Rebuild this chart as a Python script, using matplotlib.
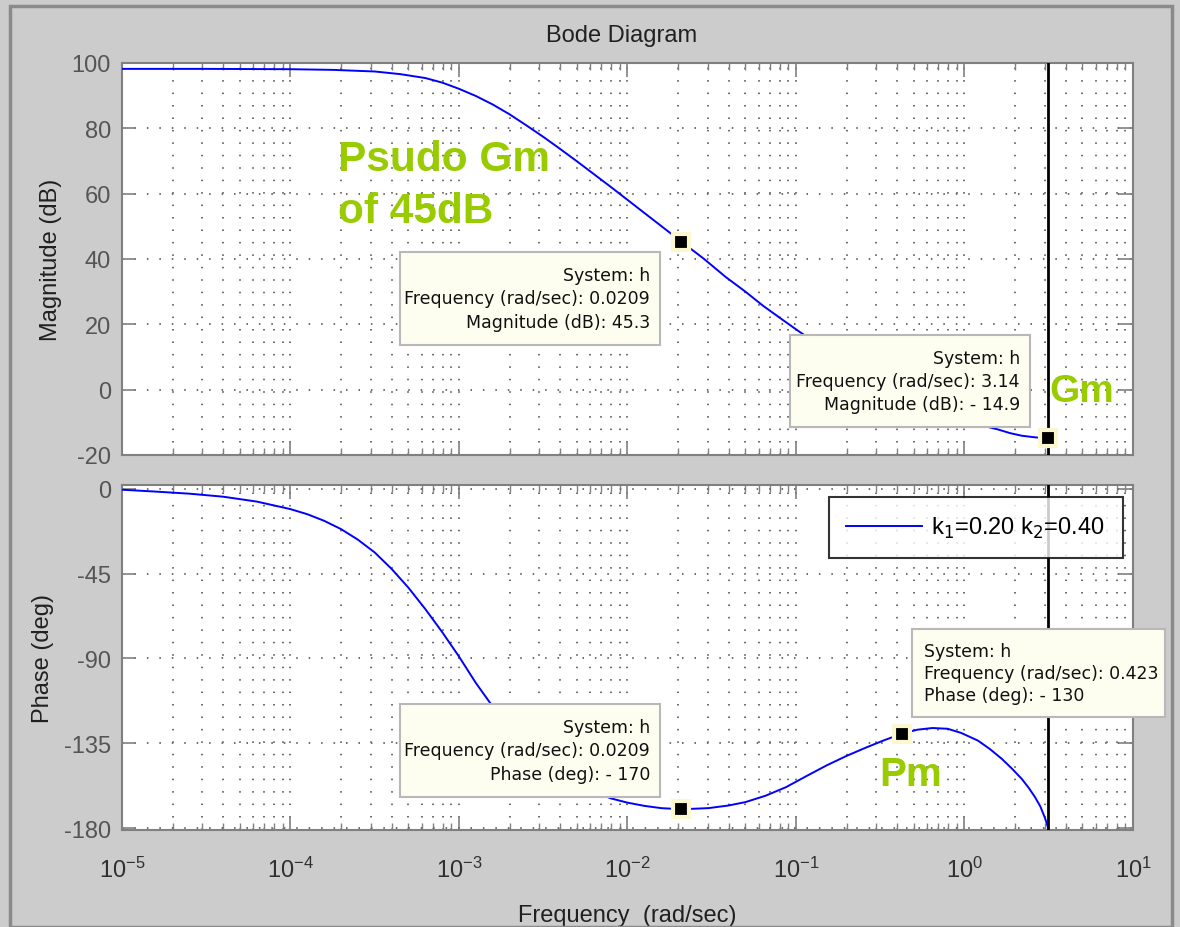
import numpy as np
import matplotlib
matplotlib.use("Agg")
import matplotlib.pyplot as plt
from matplotlib.patches import Rectangle
from matplotlib.ticker import FixedLocator, LogLocator, NullFormatter

# ---------------- data ----------------
mag_logw = [-5.0, -4.5, -4.0, -3.75, -3.5, -3.35, -3.2, -3.1, -3.0, -2.9,
            -2.8, -2.7, -2.6, -2.5, -2.4, -2.3, -2.2, -2.1, -2.0, -1.9,
            -1.8, -1.68, -1.55, -1.415, -1.3, -1.196, -1.08, -0.976, -0.8, -0.6,
            -0.4, -0.2, 0.0, 0.1, 0.2, 0.27, 0.34, 0.42, 0.497]
mag_db = [98.2, 98.2, 98.1, 97.9, 97.4, 96.6, 95.4, 94.0, 92.1, 89.9,
          87.3, 84.3, 80.9, 77.4, 73.7, 69.9, 66.0, 62.1, 58.1, 54.1,
          50.1, 45.3, 40.2, 34.4, 30.0, 25.7, 21.4, 17.6, 11.6, 5.3,
          -0.4, -5.4, -9.3, -10.9, -12.2, -13.3, -14.1, -14.6, -14.9]

ph_logw = [-5.0, -4.8, -4.6, -4.4, -4.2, -4.0, -3.9, -3.8, -3.7, -3.6,
           -3.5, -3.4, -3.3, -3.2, -3.1, -3.0, -2.9, -2.8, -2.7, -2.6,
           -2.5, -2.4, -2.3, -2.2, -2.1, -2.0, -1.9, -1.8, -1.68, -1.52,
           -1.4, -1.3, -1.18, -1.06, -0.94, -0.82, -0.7, -0.58, -0.48, -0.374,
           -0.28, -0.19, -0.1, -0.02, 0.08, 0.15, 0.222, 0.28, 0.34, 0.38,
           0.418, 0.45, 0.477, 0.497]
ph_deg = [-0.5, -1.5, -2.6, -4.2, -6.8, -10.8, -13.5, -17.0, -21.4, -27.0,
          -33.8, -42.5, -52.5, -63.8, -76.0, -89.0, -103.0, -115.5, -126.5, -135.5,
          -143.5, -150.5, -156.0, -160.5, -164.2, -166.5, -168.2, -169.4, -170.0, -169.4,
          -168.0, -166.2, -162.8, -158.3, -152.5, -146.8, -141.7, -137.1, -133.5, -130.0,
          -127.8, -126.9, -127.3, -129.5, -133.6, -138.0, -143.3, -148.3, -153.9, -158.5,
          -163.5, -168.5, -174.5, -180.0]

mag_ticks = [-20, 0, 20, 40, 60, 80, 100]
ph_ticks = [-180, -135, -90, -45, 0]
decades = [-5, -4, -3, -2, -1, 0, 1]

mag_tips = [(0.0209, 45.3), (3.14, -14.9)]
ph_tips = [(0.0209, -170), (0.423, -130)]
crossover_w = 3.14
legend_label = r"k$_{1}$=0.20 k$_{2}$=0.40"

# ---------------- figure ----------------
W, H = 1180, 928
plt.rcParams["axes.unicode_minus"] = False
plt.rcParams["font.family"] = ["Liberation Sans", "DejaVu Sans"]
fig = plt.figure(figsize=(W / 100, H / 100), dpi=100, facecolor="#cccccc")

# window frame
fig.patches.append(Rectangle((10 / W, 0), (1162 / W), 1 - 7 / H, transform=fig.transFigure,
                             fill=False, edgecolor="#8a8a8a", linewidth=2.5, zorder=0))

def px_axes(left, top, right, bottom):
    return [left / W, 1 - bottom / H, (right - left) / W, (bottom - top) / H]

ax1 = fig.add_axes(px_axes(122, 64, 1133, 456))
ax2 = fig.add_axes(px_axes(122, 486, 1133, 831))

mag_w = 10 ** np.array(mag_logw)
ph_w = 10 ** np.array(ph_logw)

ax1.semilogx(mag_w, mag_db, color="#0000ff", lw=1.4, zorder=3)
ax2.semilogx(ph_w, ph_deg, color="#0000ff", lw=1.4, zorder=3, label=legend_label)

grid_kw = dict(color="#6e6e6e", linestyle=(0, (0.8, 5.6)), linewidth=1.4)
for ax in (ax1, ax2):
    ax.set_facecolor("white")
    ax.set_xlim(1e-5, 10)
    ax.set_xscale("log")
    ax.xaxis.set_major_locator(FixedLocator([10.0 ** d for d in decades]))
    ax.xaxis.set_minor_locator(LogLocator(base=10, subs=np.arange(2, 10), numticks=100))
    ax.xaxis.set_minor_formatter(NullFormatter())
    ax.grid(True, which="major", **grid_kw)
    ax.grid(True, which="minor", axis="x", **grid_kw)
    ax.tick_params(which="major", direction="in", length=10, width=1.2, color="#808080",
                   top=True, right=True, labelsize=17, labelcolor="#555555", pad=8)
    ax.tick_params(which="minor", direction="in", length=5, width=1.0, color="#808080",
                   top=True, right=True)
    for s in ax.spines.values():
        s.set_color("#808080")
        s.set_linewidth(1.5)
    ax.axvline(crossover_w, color="black", lw=2.0, zorder=4)
    ax.set_axisbelow(True)

ax1.set_ylim(-20, 100)
ax1.set_yticks(mag_ticks)
ax1.tick_params(axis="x", labelbottom=False)
ax2.set_ylim(-181, 2)
ax2.set_yticks(ph_ticks)
ax2.set_xticklabels([r"$\mathregular{10^{%d}}$" % d for d in decades])
ax2.tick_params(axis="x", labelcolor="#303030", pad=19)

ax1.set_ylabel("Magnitude (dB)", fontsize=17, color="#202020", labelpad=7)
ax2.set_ylabel("Phase (deg)", fontsize=17, color="#202020", labelpad=7)
ax2.set_xlabel("Frequency  (rad/sec)", fontsize=17, color="#202020", labelpad=16)
fig.text(622 / W, 1 - 36 / H, "Bode Diagram", ha="center", va="center", fontsize=17, color="#202020")

# data tip markers
mk = dict(marker="s", markersize=12, markerfacecolor="black", markeredgecolor="#fbf8cf",
          markeredgewidth=3, linestyle="none", zorder=6)
for w, v in mag_tips:
    ax1.plot([w], [v], **mk)
for w, v in ph_tips:
    ax2.plot([w], [v], **mk)

# data tip boxes
tip_font = dict(fontsize=12.5, color="#101010", family=["DejaVu Sans"])
def tipbox(x0, y0, x1, y1, lines, align):
    fig.patches.append(Rectangle((x0 / W, 1 - y1 / H), (x1 - x0) / W, (y1 - y0) / H,
                                 transform=fig.transFigure, facecolor="#fefef0",
                                 edgecolor="#b8b8b8", linewidth=1.5, zorder=7))
    n = len(lines)
    for i, t in enumerate(lines):
        yy = y0 + (y1 - y0) * (i + 1) / (n + 1)
        if align == "right":
            fig.text((x1 - 10) / W, 1 - yy / H, t, ha="right", va="center", zorder=8, **tip_font)
        else:
            fig.text((x0 + 12) / W, 1 - yy / H, t, ha="left", va="center", zorder=8, **tip_font)

tipbox(400, 253, 660, 346, ["System: h", "Frequency (rad/sec): 0.0209", "Magnitude (dB): 45.3"], "right")
tipbox(790, 336, 1030, 428, ["System: h", "Frequency (rad/sec): 3.14", "Magnitude (dB): - 14.9"], "right")
tipbox(400, 705, 660, 798, ["System: h", "Frequency (rad/sec): 0.0209", "Phase (deg): - 170"], "right")
tipbox(912, 630, 1165, 718, ["System: h", "Frequency (rad/sec): 0.423", "Phase (deg): - 130"], "left")

# green annotations
green = "#99cc00"
fig.text(338 / W, 1 - 160 / H, "Psudo Gm", ha="left", va="center", fontsize=30.5,
         fontweight="bold", color=green, zorder=9)
fig.text(338 / W, 1 - 212 / H, "of 45dB", ha="left", va="center", fontsize=30.5,
         fontweight="bold", color=green, zorder=9)
fig.text(1049 / W, 1 - 392 / H, "Gm", ha="left", va="center", fontsize=28,
         fontweight="bold", color=green, zorder=9)
fig.text(879 / W, 1 - 775 / H, "Pm", ha="left", va="center", fontsize=29,
         fontweight="bold", color=green, zorder=9)

leg = ax2.legend(loc="upper right", bbox_to_anchor=(0.990, 0.965), fontsize=17, frameon=True,
                 fancybox=False, edgecolor="black", handlelength=3.2, borderpad=0.75,
                 handletextpad=0.4, borderaxespad=0)
leg.get_frame().set_linewidth(1.5)
leg.set_zorder(10)

fig.savefig("out.png", dpi=100, facecolor=fig.get_facecolor())
